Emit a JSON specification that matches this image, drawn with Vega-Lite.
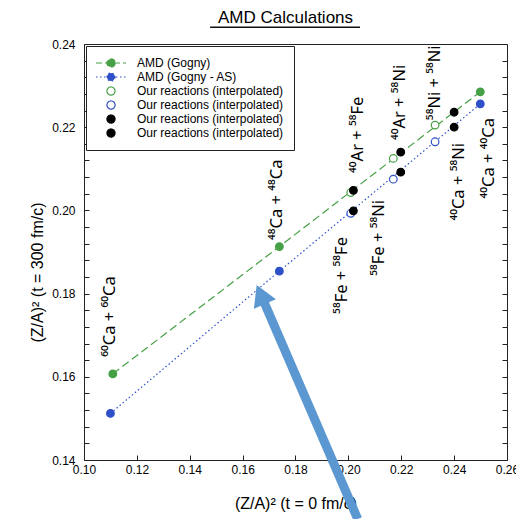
{
  "$schema": "https://vega.github.io/schema/vega-lite/v6.json",
  "width": 423,
  "height": 416,
  "autosize": {"type": "none"},
  "padding": {"left": 84, "top": 44, "right": 9, "bottom": 59},
  "background": "white",
  "title": {"text": "AMD Calculations", "font": "Liberation Sans", "fontSize": 17, "fontWeight": "normal", "color": "black", "anchor": "middle", "frame": "group", "dx": -10, "baseline": "alphabetic", "offset": -13},
  "config": {
    "view": {"stroke": "#222222", "strokeWidth": 1},
    "font": "Liberation Sans",
    "axis": {"grid": false, "domain": false, "labelFont": "Liberation Sans", "labelFontSize": 12, "labelColor": "black", "titleFont": "Liberation Sans", "titleFontSize": 16, "titleFontWeight": "normal", "titleColor": "black", "tickColor": "#222222", "tickSize": -5, "tickWidth": 1}
  },
  "datasets": {
    "points": [
      {"x": 0.1109, "y": 0.1607, "series": "AMD (Gogny)"},
      {"x": 0.1739, "y": 0.1913, "series": "AMD (Gogny)"},
      {"x": 0.2499, "y": 0.2285, "series": "AMD (Gogny)"},
      {"x": 0.1100, "y": 0.1512, "series": "AMD (Gogny - AS)"},
      {"x": 0.1739, "y": 0.1854, "series": "AMD (Gogny - AS)"},
      {"x": 0.2499, "y": 0.2256, "series": "AMD (Gogny - AS)"},
      {"x": 0.2009, "y": 0.2043, "series": "Our reactions (interpolated) #1"},
      {"x": 0.2170, "y": 0.2125, "series": "Our reactions (interpolated) #1"},
      {"x": 0.2328, "y": 0.2205, "series": "Our reactions (interpolated) #1"},
      {"x": 0.2009, "y": 0.1993, "series": "Our reactions (interpolated) #2"},
      {"x": 0.2170, "y": 0.2075, "series": "Our reactions (interpolated) #2"},
      {"x": 0.2328, "y": 0.2165, "series": "Our reactions (interpolated) #2"},
      {"x": 0.2019, "y": 0.2048, "series": "Our reactions (interpolated) #3"},
      {"x": 0.2198, "y": 0.2140, "series": "Our reactions (interpolated) #3"},
      {"x": 0.2400, "y": 0.2236, "series": "Our reactions (interpolated) #3"},
      {"x": 0.2019, "y": 0.1999, "series": "Our reactions (interpolated) #4"},
      {"x": 0.2198, "y": 0.2092, "series": "Our reactions (interpolated) #4"},
      {"x": 0.2400, "y": 0.2200, "series": "Our reactions (interpolated) #4"}
    ],
    "labels": [
      {"x": 0.1098, "y": 0.1648, "label": "⁶⁰Ca + ⁶⁰Ca", "side": "above"},
      {"x": 0.1730, "y": 0.1929, "label": "⁴⁸Ca + ⁴⁸Ca", "side": "above"},
      {"x": 0.2036, "y": 0.2090, "label": "⁴⁰Ar + ⁵⁸Fe", "side": "above"},
      {"x": 0.2195, "y": 0.2169, "label": "⁴⁰Ar + ⁵⁸Ni", "side": "above"},
      {"x": 0.2328, "y": 0.2217, "label": "⁵⁸Ni + ⁵⁸Ni", "side": "above"},
      {"x": 0.1976, "y": 0.1936, "label": "⁵⁸Fe + ⁵⁸Fe", "side": "below"},
      {"x": 0.2116, "y": 0.2025, "label": "⁵⁸Fe + ⁵⁸Ni", "side": "below"},
      {"x": 0.2418, "y": 0.2162, "label": "⁴⁰Ca + ⁵⁸Ni", "side": "below"},
      {"x": 0.2532, "y": 0.2222, "label": "⁴⁰Ca + ⁴⁰Ca", "side": "below"}
    ],
    "arrow": [
      {"x": 0.20353, "y": 0.12582, "x2": 0.16687, "y2": 0.17977}
    ],
    "arrowHead": [
      {"x": 0.16687, "y": 0.17977}
    ],
    "underline": [
      {"x": 0.1477, "x2": 0.2044, "y": 0.2440}
    ]
  },
  "encoding": {
    "x": {"field": "x", "type": "quantitative", "scale": {"domain": [0.10, 0.26], "nice": false, "zero": false},
      "axis": {"values": [0.10, 0.12, 0.14, 0.16, 0.18, 0.20, 0.22, 0.24, 0.26], "format": ".2f", "labelPadding": 9, "labelFlush": false, "title": "(Z/A)² (t = 0 fm/c)", "titlePadding": 20}},
    "y": {"field": "y", "type": "quantitative", "scale": {"domain": [0.14, 0.24], "nice": false, "zero": false}, "axis": null}
  },
  "layer": [
    {
      "data": {"name": "points"},
      "transform": [{"filter": "datum.series === 'AMD (Gogny)'"}],
      "mark": {"type": "line", "color": "#46a046", "strokeDash": [8, 4], "strokeWidth": 1.2},
      "encoding": {
        "y": {"field": "y", "type": "quantitative", "scale": {"domain": [0.14, 0.24], "nice": false, "zero": false},
          "axis": {"orient": "left", "values": [0.14, 0.144, 0.148, 0.152, 0.156, 0.16, 0.164, 0.168, 0.172, 0.176, 0.18, 0.184, 0.188, 0.192, 0.196, 0.2, 0.204, 0.208, 0.212, 0.216, 0.22, 0.224, 0.228, 0.232, 0.236, 0.24],
            "labelExpr": "abs(datum.value * 50 - round(datum.value * 50)) < 0.01 ? format(datum.value, '.2f') : ''",
            "labelPadding": 14, "labelFlush": false, "title": "(Z/A)² (t = 300 fm/c)", "titlePadding": 6, "titleY": 228}}
      }
    },
    {
      "data": {"name": "points"},
      "transform": [{"filter": "datum.series === 'AMD (Gogny - AS)'"}],
      "mark": {"type": "line", "color": "#2e50c8", "strokeDash": [1.5, 2.5], "strokeWidth": 1.2}
    },
    {
      "data": {"name": "labels"},
      "transform": [{"filter": "datum.side === 'above'"}],
      "mark": {"type": "text", "angle": 270, "align": "left", "baseline": "middle", "font": "Noto Sans", "fontSize": 16.5, "color": "black"},
      "encoding": {"text": {"field": "label", "type": "nominal"}}
    },
    {
      "data": {"name": "labels"},
      "transform": [{"filter": "datum.side === 'below'"}],
      "mark": {"type": "text", "angle": 270, "align": "right", "baseline": "middle", "font": "Noto Sans", "fontSize": 16.5, "color": "black"},
      "encoding": {"text": {"field": "label", "type": "nominal"}}
    },
    {
      "data": {"name": "points"},
      "mark": {"type": "point", "shape": "circle", "size": 58, "strokeWidth": 1.2, "opacity": 1},
      "encoding": {
        "y": {"field": "y", "type": "quantitative", "scale": {"domain": [0.14, 0.24], "nice": false, "zero": false},
          "axis": {"orient": "right", "values": [0.14, 0.144, 0.148, 0.152, 0.156, 0.16, 0.164, 0.168, 0.172, 0.176, 0.18, 0.184, 0.188, 0.192, 0.196, 0.2, 0.204, 0.208, 0.212, 0.216, 0.22, 0.224, 0.228, 0.232, 0.236, 0.24], "labels": false, "title": null}},
        "stroke": {"field": "series", "type": "nominal",
          "scale": {"domain": ["AMD (Gogny)", "AMD (Gogny - AS)", "Our reactions (interpolated) #1", "Our reactions (interpolated) #2", "Our reactions (interpolated) #3", "Our reactions (interpolated) #4"],
            "range": ["#46a046", "#2e50c8", "#46a046", "#2e50c8", "#000000", "#000000"]},
          "legend": {"title": null, "orient": "top-left", "offset": 2, "padding": 10, "strokeColor": "#222222", "fillColor": "white", "labelFont": "Liberation Sans", "labelFontSize": 12, "labelColor": "black", "labelOffset": 27, "rowPadding": 0, "symbolSize": 144, "symbolStrokeWidth": 1.2, "labelLimit": 300,
            "labelExpr": "indexof(datum.label, 'Our reactions') === 0 ? 'Our reactions (interpolated)' : datum.label",
            "encoding": {"symbols": {
              "shape": {"value": {"expr": "indexof(datum.value, 'AMD') === 0 ? 'M-1.167,0L3.833,0M2.008,0C2.008,0.3728,1.706,0.675,1.333,0.675C0.96,0.675,0.658,0.3728,0.658,0C0.658,-0.3728,0.96,-0.675,1.333,-0.675C1.706,-0.675,2.008,-0.3728,2.008,0Z' : 'M2.008,0C2.008,0.3728,1.706,0.675,1.333,0.675C0.96,0.675,0.658,0.3728,0.658,0C0.658,-0.3728,0.96,-0.675,1.333,-0.675C1.706,-0.675,2.008,-0.3728,2.008,0Z'"}},
              "strokeDash": {"value": {"expr": "datum.value === 'AMD (Gogny)' ? [6, 3] : datum.value === 'AMD (Gogny - AS)' ? [1.5, 2.5] : [1, 0]"}},
              "size": {"value": 144},
              "opacity": {"value": 1}
            }}}},
        "fill": {"field": "series", "type": "nominal",
          "scale": {"domain": ["AMD (Gogny)", "AMD (Gogny - AS)", "Our reactions (interpolated) #1", "Our reactions (interpolated) #2", "Our reactions (interpolated) #3", "Our reactions (interpolated) #4"],
            "range": ["#46a046", "#2e50c8", "#ffffff", "#ffffff", "#000000", "#000000"]},
          "legend": {"title": null, "orient": "top-left", "offset": 2, "padding": 10, "strokeColor": "#222222", "fillColor": "white", "labelFont": "Liberation Sans", "labelFontSize": 12, "labelColor": "black", "labelOffset": 27, "rowPadding": 0, "symbolSize": 144, "symbolStrokeWidth": 1.2, "labelLimit": 300,
            "labelExpr": "indexof(datum.label, 'Our reactions') === 0 ? 'Our reactions (interpolated)' : datum.label",
            "encoding": {"symbols": {
              "shape": {"value": {"expr": "indexof(datum.value, 'AMD') === 0 ? 'M-1.167,0L3.833,0M2.008,0C2.008,0.3728,1.706,0.675,1.333,0.675C0.96,0.675,0.658,0.3728,0.658,0C0.658,-0.3728,0.96,-0.675,1.333,-0.675C1.706,-0.675,2.008,-0.3728,2.008,0Z' : 'M2.008,0C2.008,0.3728,1.706,0.675,1.333,0.675C0.96,0.675,0.658,0.3728,0.658,0C0.658,-0.3728,0.96,-0.675,1.333,-0.675C1.706,-0.675,2.008,-0.3728,2.008,0Z'"}},
              "strokeDash": {"value": {"expr": "datum.value === 'AMD (Gogny)' ? [6, 3] : datum.value === 'AMD (Gogny - AS)' ? [1.5, 2.5] : [1, 0]"}},
              "size": {"value": 144},
              "opacity": {"value": 1}
            }}}}
      }
    },
    {
      "data": {"name": "underline"},
      "mark": {"type": "rule", "color": "#111111", "strokeWidth": 1.5},
      "encoding": {"x2": {"field": "x2"}}
    },
    {
      "data": {"name": "arrow"},
      "mark": {"type": "rule", "color": "#5b97d1", "strokeWidth": 9, "strokeCap": "butt"},
      "encoding": {"x2": {"field": "x2"}, "y2": {"field": "y2"}}
    },
    {
      "data": {"name": "arrowHead"},
      "mark": {"type": "point", "shape": "triangle-up", "angle": 336.7, "size": 576, "filled": true, "color": "#5b97d1", "opacity": 1}
    }
  ],
  "resolve": {"axis": {"y": "independent"}}
}
